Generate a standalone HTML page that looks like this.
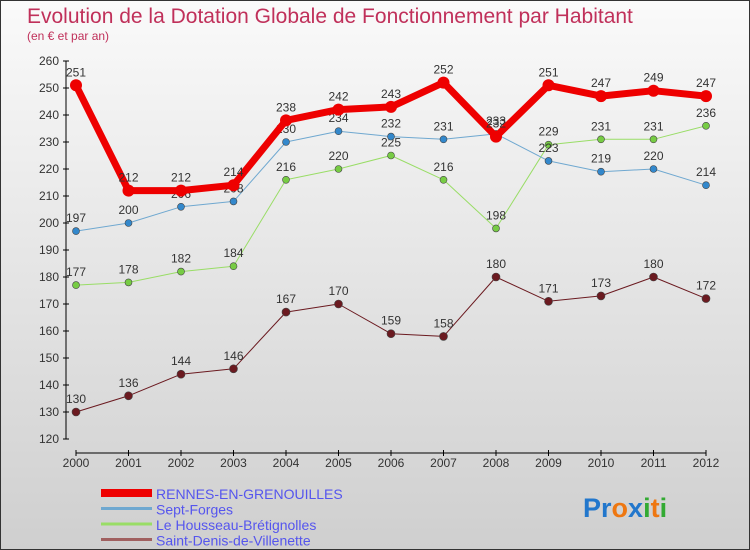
<!DOCTYPE html>
<html><head><meta charset="utf-8"><style>
body{margin:0}
#c{width:748px;height:548px;border:1px solid #333;background:linear-gradient(#fafafa,#cfcfcf);position:relative;font-family:"Liberation Sans",sans-serif;overflow:hidden}
</style></head><body>
<div id="c">
<svg id="s" width="748" height="548" style="position:absolute;left:0;top:0">
<text x="26" y="22" font-size="21" fill="#c0305a">Evolution de la Dotation Globale de Fonctionnement par Habitant</text>
<text x="26" y="39" font-size="12" fill="#c0305a">(en € et par an)</text>
</svg>
</div>
<script>
const years=[2000,2001,2002,2003,2004,2005,2006,2007,2008,2009,2010,2011,2012];
const rennes=[251,212,212,214,238,242,243,252,232,251,247,249,247];
const sept=[197,200,206,208,230,234,232,231,233,223,219,220,214];
const housseau=[177,178,182,184,216,220,225,216,198,229,231,231,236];
const stdenis=[130,136,144,146,167,170,159,158,180,171,173,180,172];
const yTicks=[120,130,140,150,160,170,180,190,200,210,220,230,240,250,260];
const names=["RENNES-EN-GRENOUILLES","Sept-Forges","Le Housseau-Brétignolles","Saint-Denis-de-Villenette"];
const NS="http://www.w3.org/2000/svg",s=document.getElementById('s');
const X=i=>75+i*52.5, Y=v=>60+(260-v)*2.7;
function mk(t,a,p){const e=document.createElementNS(NS,t);for(const k in a)e.setAttribute(k,a[k]);(p||s).appendChild(e);return e;}
let ax=mk('line',{x1:65,y1:Y(260),x2:65,y2:Y(120),stroke:'#000'});


let xa=mk('line',{x1:75,y1:452,x2:705,y2:452,stroke:'#000'});


yTicks.forEach(v=>{mk('line',{x1:62,x2:68,y1:Y(v),y2:Y(v),stroke:'#000'});
const t=mk('text',{x:58,y:Y(v)+4,'font-size':12,fill:'#333','text-anchor':'end'});t.textContent=v;

});
years.forEach((y,i)=>{mk('line',{x1:X(i),x2:X(i),y1:449,y2:455,stroke:'#000'});
const t=mk('text',{x:X(i),y:466,'font-size':12,fill:'#333','text-anchor':'middle'});t.textContent=y;

});
const series=[[stdenis,'#6b1a20','#6b1a20',1,4],[housseau,'#99dd66','#77cc44',1,3.5],[sept,'#6fa8d0','#3388cc',1,3.5],[rennes,'#ee0000','#ee0000',7,6]];
series.forEach(([d,c,dc,w,r],k)=>{
const g=mk('g',{});


mk('polyline',{points:d.map((v,i)=>X(i)+','+Y(v)).join(' '),fill:'none',stroke:c,'stroke-width':w,'stroke-linejoin':'round'},g);
d.forEach((v,i)=>{const p=mk('circle',{cx:X(i),cy:Y(v),r:r,fill:dc,stroke:w>1?'none':'#444','stroke-width':0.6},g);


const t=mk('text',{x:X(i),y:Y(v)-9,'font-size':12,fill:'#333','text-anchor':'middle'},g);t.textContent=v;

});});
const lc=['#ee0000','#6fa8d0','#99dd66','#a06060'];
names.forEach((n,i)=>{const y=492+i*15.5;
const l=mk('line',{x1:100,x2:151,y1:y,y2:y,stroke:lc[i],'stroke-width':i?3:8});


const t=mk('text',{x:155,y:y+6,'font-size':14,fill:'#5555ee'});t.textContent=n;

});
const lg=mk('text',{x:582,y:516,'font-size':27,'font-weight':'bold'});


[['P','#2277cc'],['r','#2277cc'],['o','#ee7711'],['x','#2277cc'],['i','#33aa33'],['t','#ee7711'],['i','#33aa33']].forEach(([ch,c])=>{const sp=mk('tspan',{fill:c},lg);sp.textContent=ch;});
</script>
</body></html>
